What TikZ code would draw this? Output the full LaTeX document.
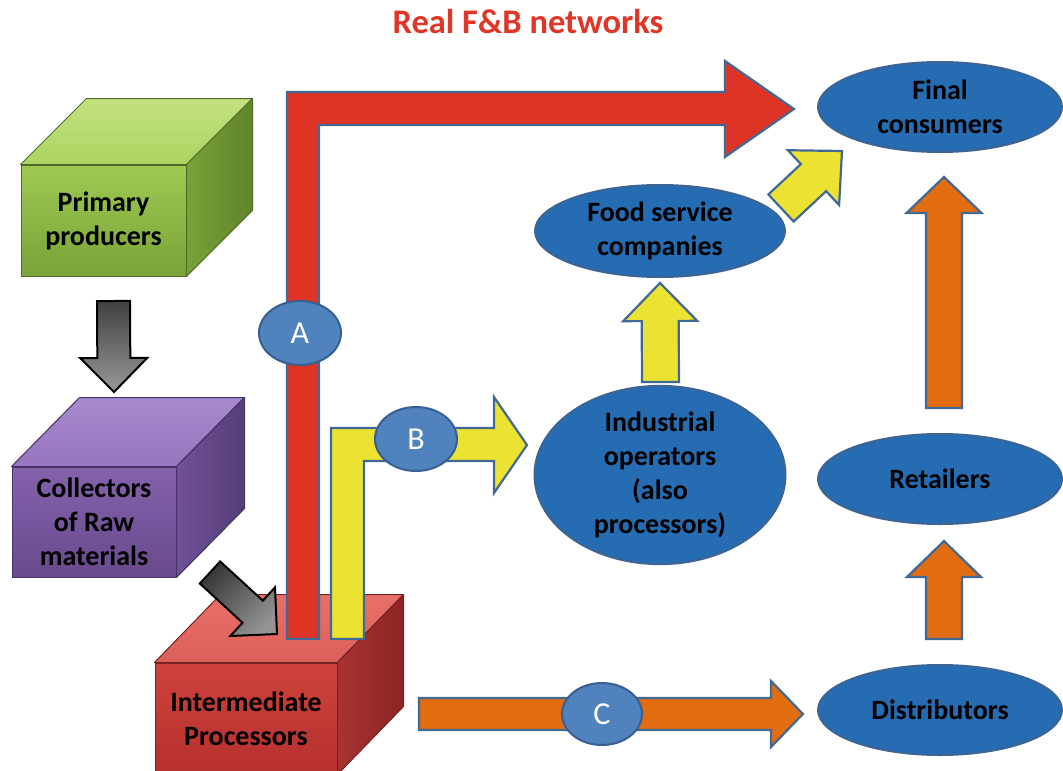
\documentclass[tikz,border=0pt]{standalone}
\usepackage{fontspec}
\setmainfont{Carlito}
\usetikzlibrary{calc,shapes.geometric}

\definecolor{arrowline}{RGB}{65,105,150}
\definecolor{redA}{RGB}{222,52,38}
\definecolor{yelB}{RGB}{235,226,50}
\definecolor{oraC}{RGB}{226,108,16}
\definecolor{ellfill}{RGB}{38,108,178}
\definecolor{elldraw}{RGB}{62,100,148}
\definecolor{tagfill}{RGB}{80,130,190}
\definecolor{tagdraw}{RGB}{55,95,145}
\definecolor{titlered}{RGB}{224,54,40}
% cube colours
\definecolor{grnA}{RGB}{158,202,82}\definecolor{grnB}{RGB}{122,162,56}
\definecolor{grnT1}{RGB}{196,226,128}\definecolor{grnT2}{RGB}{172,212,98}
\definecolor{grnS1}{RGB}{122,162,56}\definecolor{grnS2}{RGB}{96,132,44}
\definecolor{grnL}{RGB}{78,108,40}
\definecolor{purA}{RGB}{132,98,172}\definecolor{purB}{RGB}{104,74,140}
\definecolor{purT1}{RGB}{168,138,206}\definecolor{purT2}{RGB}{150,118,190}
\definecolor{purS1}{RGB}{112,82,152}\definecolor{purS2}{RGB}{86,60,120}
\definecolor{purL}{RGB}{70,50,100}
\definecolor{redbA}{RGB}{206,66,60}\definecolor{redbB}{RGB}{182,48,46}
\definecolor{redbT1}{RGB}{232,112,106}\definecolor{redbT2}{RGB}{220,96,90}
\definecolor{redbS1}{RGB}{170,50,50}\definecolor{redbS2}{RGB}{140,36,36}
\definecolor{redbL}{RGB}{118,34,34}

% block arrow: style, tail, tip, half shaft width, half head width, head length
\newcommand{\blockarrow}[6]{%
  \coordinate (ba-h) at ($(#3)!#6!(#2)$);
  \draw[#1] ($(#2)!#4!90:(#3)$) -- ($(ba-h)!#4!-90:(#2)$) -- ($(ba-h)!#5!-90:(#2)$)
    -- (#3) -- ($(ba-h)!#5!90:(#2)$) -- ($(ba-h)!#4!90:(#2)$) -- ($(#2)!#4!-90:(#3)$) -- cycle;
}

\begin{document}
\begin{tikzpicture}[x=1pt,y=-1pt,
  lbl/.style={font=\fontsize{28}{34}\selectfont\bfseries, align=center, text=black},
  cubefront/.style={rectangle, draw=#1, line width=1pt, inner sep=0pt, lbl},
  cubeface/.style={draw=#1, line width=1pt, line join=round},
  actor/.style={ellipse, draw=elldraw, line width=2pt, fill=ellfill, inner sep=0pt, lbl},
  tag/.style={ellipse, draw=tagdraw, line width=2pt, fill=tagfill, inner sep=0pt,
    text=white, font=\fontsize{32}{38}\selectfont, minimum width=82pt, minimum height=64pt},
  flowarrow/.style={draw=arrowline, line width=2.2pt, line join=miter, fill=#1},
  grayarrow/.style={draw=black, line width=2pt, line join=miter}
]
\useasboundingbox (0,0) rectangle (1063,771);

% title
\node[font=\fontsize{34.5}{40}\selectfont\bfseries, text=titlered] (title) at (528,22) {Real F\&B networks};

% ---- Primary producers cube
\node[cubefront=grnL, minimum width=165pt, minimum height=111pt, top color=grnA, bottom color=grnB]
  (prim) at (103.5,220.5) {Primary\\producers};
\draw[cubeface=grnL, top color=grnT1, bottom color=grnT2]
  (prim.north west) -- ++(66,-66) -- ($(prim.north east)+(66,-66)$) -- (prim.north east) -- cycle;
\draw[cubeface=grnL, left color=grnS1, right color=grnS2]
  (prim.north east) -- ++(66,-66) -- ($(prim.south east)+(66,-66)$) -- (prim.south east) -- cycle;

% ---- Collectors cube
\node[cubefront=purL, minimum width=164pt, minimum height=110pt, top color=purA, bottom color=purB]
  (coll) at (94,522) {Collectors\\of Raw\\materials};
\draw[cubeface=purL, top color=purT1, bottom color=purT2]
  (coll.north west) -- ++(68,-69) -- ($(coll.north east)+(68,-69)$) -- (coll.north east) -- cycle;
\draw[cubeface=purL, left color=purS1, right color=purS2]
  (coll.north east) -- ++(68,-69) -- ($(coll.south east)+(68,-69)$) -- (coll.south east) -- cycle;

% ---- Intermediate processors cube
\node[cubefront=redbL, minimum width=182pt, minimum height=111pt, top color=redbA, bottom color=redbB]
  (inter) at (246,718.5) {Intermediate\\Processors};
\draw[cubeface=redbL, top color=redbT1, bottom color=redbT2]
  (inter.north west) -- ++(66,-68) -- ($(inter.north east)+(66,-68)$) -- (inter.north east) -- cycle;
\draw[cubeface=redbL, left color=redbS1, right color=redbS2]
  (inter.north east) -- ++(66,-68) -- ($(inter.south east)+(66,-68)$) -- (inter.south east) -- cycle;

% ---- downstream actors
\node[actor, minimum width=244pt, minimum height=90pt] (final) at (940,107) {Final\\consumers};
\node[actor, minimum width=250pt, minimum height=92pt] (food) at (660,231) {Food service\\companies};
\node[actor, minimum width=251pt, minimum height=170pt] (indus) at (660,475) {Industrial\\operators\\(also\\processors)};
\node[actor, minimum width=244pt, minimum height=90pt] (retail) at (940,479) {Retailers};
\node[actor, minimum width=244pt, minimum height=90pt] (distrib) at (940,710) {Distributors};

% ---- gray arrows between the cubes
\coordinate (g1t) at (113.5,301);  \coordinate (g1h) at (114,392);
\blockarrow{grayarrow, top color=black!75, bottom color=black!40}{g1t}{g1h}{16.5pt}{33.5pt}{34pt}
\coordinate (g2t) at (210,572.5);  \coordinate (g2h) at (277,634);
\blockarrow{grayarrow, top color=black!78, bottom color=black!42, shading angle=45}{g2t}{g2h}{15pt}{33pt}{33pt}

% ---- route A: intermediate processors straight to final consumers
\coordinate (aS) at (303,639);
\coordinate (aT) at (794,109);
\draw[flowarrow=redA] (287,639) -- (287,92) -- (725,92) -- (725,61) -- (aT) -- (725,157)
  -- (725,125) -- (319,125) -- (319,639) -- cycle;

% ---- route B: intermediate processors to industrial operators
\coordinate (bS) at (347.5,639);
\coordinate (bT) at (527,445);
\draw[flowarrow=yelB] (331,639) -- (331,428) -- (494,428) -- (494,397) -- (bT) -- (494,493)
  -- (494,461) -- (364,461) -- (364,639) -- cycle;

% ---- route C: intermediate processors to distributors
\coordinate (cS) at (419,714);  \coordinate (cT) at (803,714);
\blockarrow{flowarrow=oraC}{cS}{cT}{16pt}{33pt}{32pt}

% ---- arrows among downstream actors
\coordinate (y1t) at (660.5,382); \coordinate (y1h) at (660,283);
\blockarrow{flowarrow=yelB}{y1t}{y1h}{18.5pt}{37pt}{38pt}
\coordinate (y2t) at (781,208); \coordinate (y2h) at (842,151);
\blockarrow{flowarrow=yelB}{y2t}{y2h}{18.5pt}{37.5pt}{39pt}
\coordinate (o1t) at (944,408); \coordinate (o1h) at (944,177);
\blockarrow{flowarrow=oraC}{o1t}{o1h}{18pt}{37.5pt}{36pt}
\coordinate (o2t) at (944,639); \coordinate (o2h) at (944,541);
\blockarrow{flowarrow=oraC}{o2t}{o2h}{18pt}{37pt}{36pt}

% ---- route tags
\node[tag] (tagA) at (300,333) {A};
\node[tag] (tagB) at (416,439) {B};
\node[tag, minimum width=80pt, minimum height=62pt] (tagC) at (602,714) {C};
\end{tikzpicture}
\end{document}
